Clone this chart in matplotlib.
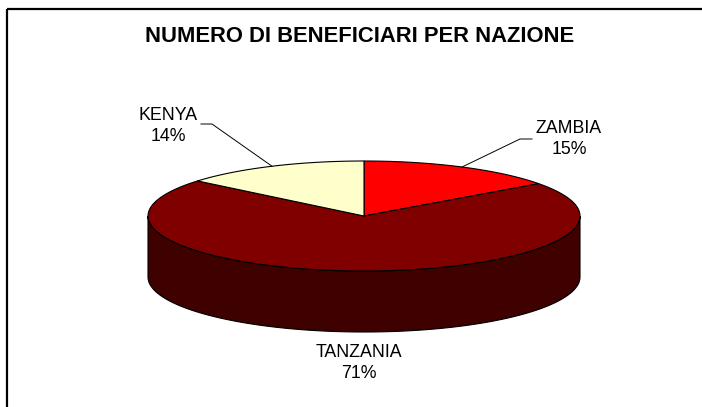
import matplotlib.pyplot as plt
from matplotlib.patches import Polygon, Rectangle
import numpy as np

plt.rcParams['font.family'] = ['Liberation Sans', 'DejaVu Sans']

title = 'NUMERO DI BENEFICIARI PER NAZIONE'
countries = ['ZAMBIA', 'TANZANIA', 'KENYA']
shares = [15, 71, 14]
colors = ['#ff0000', '#800000', '#ffffcc']
side_color = '#3f0000'

# pie geometry in pixels
cx, cy, a, b, depth = 364, 216, 216, 55, 61
label_pos = [(569, 139), (359, 363), (168, 126)]
knees = [((532, 139), (520, 139)), None, ((201, 124), (212, 124))]


def ell(t, dy=0):
    r = np.radians(t)
    return cx + a * np.cos(r), cy - b * np.sin(r) + dy


fig = plt.figure(figsize=(7.02, 4.07), dpi=100)
ax = fig.add_axes([0, 0, 1, 1])
ax.set_xlim(0, 702)
ax.set_ylim(407, 0)
ax.axis('off')

ax.add_patch(Rectangle((6.5, 8.5), 720, 420, fill=False, ec='black', lw=1.6))

# side of the cake
t = np.linspace(180, 360, 200)
tx, ty = ell(t)
bx, by = ell(t[::-1], depth)
side = np.column_stack([np.r_[tx, bx], np.r_[ty, by]])
ax.add_patch(Polygon(side, closed=True, fc=side_color, ec='black', lw=0.8))

total = sum(shares)
start = 90
mids = []
for val, col in zip(shares, colors):
    end = start - val / total * 360
    t = np.linspace(start, end, 150)
    x, y = ell(t)
    pts = np.column_stack([np.r_[cx, x], np.r_[cy, y]])
    ax.add_patch(Polygon(pts, closed=True, fc=col, ec='black', lw=0.8))
    mids.append((start + end) / 2)
    start = end

for name, val, pos, kn, m in zip(countries, shares, label_pos, knees, mids):
    ax.text(pos[0], pos[1], f'{name}\n{val}%', ha='center', va='center',
            fontsize=12.8, linespacing=1.35)
    if kn is not None:
        ex, ey = ell(m)
        ax.plot([kn[0][0], kn[1][0], ex], [kn[0][1], kn[1][1], ey],
                color='black', lw=0.7)

ax.text(360, 37, title, ha='center', va='center', fontsize=15.8,
        fontweight='bold')

fig.savefig('out.png', dpi=100)
